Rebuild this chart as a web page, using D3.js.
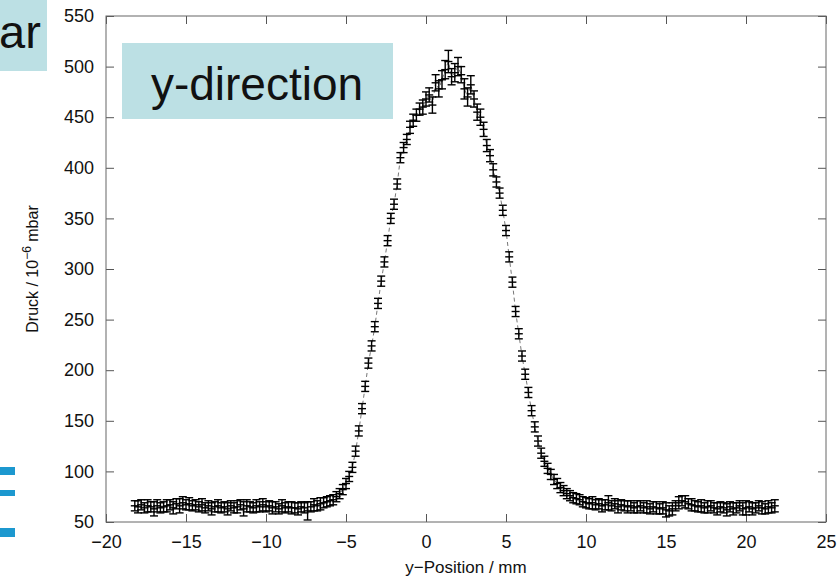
<!DOCTYPE html>
<html>
  <head>
    <meta charset="utf-8">
    <title>Druck y-direction</title>
    <script src="https://d3js.org/d3.v7.min.js"></script>
    <style>
      body { margin: 0; background: #fff; }
      text { font-family: "Liberation Sans", Arial, Helvetica, sans-serif; fill: #111; }
    </style>
  </head>

  <body>
    <div id="my_dataviz"></div>
    <script type="text/javascript">

      // scan grid: y-position from -18.2 mm in 0.2 mm steps
      var posStart = -18.2, posStep = 0.2;

      // pressure readings (10^-6 mbar)
      var druck = [
        // -18.2 .. -6.4
        66,65,67,64,66,65,63,66,64,65,
        66,67,64,68,66,69,67,68,66,67,
        65,67,64,66,63,65,66,64,65,63,
        66,64,65,67,63,66,65,64,66,65,
        67,65,66,64,65,63,66,64,65,64,
        64,63,65,64,61,65,67,66,68,69,
        // -6.2 .. 10.0
        70,71,72,75,78,82,88,95,104,120,
        140,162,184,207,224,243,266,288,307,328,
        350,364,384,410,420,428,440,447,452,458,
        460,468,472,462,484,478,487,497,505,490,
        494,500,492,478,470,482,468,455,450,438,
        422,412,398,386,375,358,338,312,287,258,
        236,214,196,178,160,144,130,118,110,103,
        97,92,88,84,81,78,76,74,73,72,
        70,69,
        // 10.2 .. 21.8
        68,69,67,68,66,67,69,66,68,65,
        67,66,65,66,64,65,66,64,65,63,
        65,64,63,64,62,61,63,66,69,71,
        70,68,67,66,65,66,64,65,66,64,
        63,65,64,62,65,63,64,66,63,64,
        65,63,64,66,64,63,65,64,66
      ];

      // error of each reading
      var fehler = [
        5,6,5,5,6,5,7,6,5,5,
        6,5,6,5,7,6,5,6,5,5,
        5,6,5,5,6,5,6,5,5,6,
        5,5,6,5,7,6,5,5,6,5,
        6,5,5,6,5,5,6,5,5,6,
        5,6,5,5,9,5,6,5,6,5,
        5,5,5,5,5,5,5,5,5,5,
        5,5,5,5,5,5,5,5,5,5,
        5,5,5,5,5,5,6,6,6,6,
        7,7,7,8,8,8,9,9,11,8,
        9,9,8,10,9,9,8,8,8,7,
        6,6,6,5,5,5,5,5,5,5,
        5,5,5,5,5,5,5,5,5,5,
        5,5,5,5,5,5,5,5,5,5,
        5,5,
        5,6,5,5,6,5,7,5,5,6,
        5,5,6,5,5,6,5,5,6,5,
        5,6,5,6,7,5,6,5,6,5,
        6,5,6,5,5,6,5,6,5,5,
        6,5,5,6,5,6,5,5,6,7,
        5,6,5,5,6,5,6,5,6
      ];

      var xTicks = [-20,-15,-10,-5,0,5,10,15,20,25];
      var yTicks = [50,100,150,200,250,300,350,400,450,500,550];

      var data = druck.map(function(d, i) {
        return {pos: posStart + i * posStep, p: d, e: fehler[i]};
      });

      var margin = {top: 16, right: 14, bottom: 57, left: 106},
          width = 840 - margin.left - margin.right,
          height = 579 - margin.top - margin.bottom;

      var root = d3.select("#my_dataviz")
        .append("svg")
        .attr("width", 840)
        .attr("height", 579);

      var svg = root.append("g")
        .attr("transform", "translate(" + margin.left + "," + margin.top + ")");

      var x = d3.scaleLinear().domain([-20, 25]).range([0, width]);
      var y = d3.scaleLinear().domain([50, 550]).range([height, 0]);

      var fmt = function(d) { return String(d).replace("-", "\u2212"); };

      // axes, ticks pointing inwards, mirrored on top/right
      var gx = svg.append("g")
        .attr("transform", "translate(0," + height + ")")
        .call(d3.axisBottom(x).tickValues(xTicks).tickSize(-8).tickSizeOuter(0).tickPadding(13).tickFormat(fmt));
      var gy = svg.append("g")
        .call(d3.axisLeft(y).tickValues(yTicks).tickSize(-8).tickSizeOuter(0).tickPadding(12));
      var gt = svg.append("g")
        .call(d3.axisTop(x).tickValues(xTicks).tickSize(-8).tickSizeOuter(0).tickFormat(""));
      var gr = svg.append("g")
        .attr("transform", "translate(" + width + ",0)")
        .call(d3.axisRight(y).tickValues(yTicks).tickSize(-8).tickSizeOuter(0).tickFormat(""));

      [gx, gy, gt, gr].forEach(function(g) {
        g.select(".domain").remove();
        g.selectAll(".tick line").attr("stroke", "#555");
        g.selectAll(".tick text")
          .style("font-size", "18px")
          .attr("fill", "#111");
      });

      svg.append("rect")
        .attr("width", width)
        .attr("height", height)
        .attr("fill", "none")
        .attr("stroke", "#666")
        .attr("stroke-width", 1);

      // dashed connecting line
      var line = d3.line()
        .x(function(d) { return x(d.pos); })
        .y(function(d) { return y(d.p); });

      svg.append("path")
        .datum(data)
        .attr("d", line)
        .attr("fill", "none")
        .attr("stroke", "#777")
        .attr("stroke-width", 1)
        .attr("stroke-dasharray", "4,3");

      // error bars
      var cap = 4;
      var bars = svg.append("g")
        .attr("stroke", "#000")
        .attr("stroke-width", 1.4)
        .selectAll("g")
        .data(data)
        .enter().append("g");

      bars.append("line")
        .attr("x1", function(d) { return x(d.pos); })
        .attr("x2", function(d) { return x(d.pos); })
        .attr("y1", function(d) { return y(d.p - d.e); })
        .attr("y2", function(d) { return y(d.p + d.e); });

      [-1, 0, 1].forEach(function(s) {
        bars.append("line")
          .attr("x1", function(d) { return x(d.pos) - cap; })
          .attr("x2", function(d) { return x(d.pos) + cap; })
          .attr("y1", function(d) { return y(d.p + s * d.e); })
          .attr("y2", function(d) { return y(d.p + s * d.e); });
      });

      // axis titles
      root.append("text")
        .attr("x", margin.left + width / 2)
        .attr("y", 573)
        .attr("text-anchor", "middle")
        .style("font-size", "17px")
        .text("y\u2212Position / mm");

      var yl = root.append("text")
        .attr("transform", "translate(38," + (margin.top + height / 2) + ") rotate(-90)")
        .attr("text-anchor", "middle")
        .style("font-size", "16px");
      yl.append("tspan").text("Druck / 10");
      yl.append("tspan").attr("dy", -7).style("font-size", "12px").text("\u22126");
      yl.append("tspan").attr("dy", 7).text(" mbar");

      // slide overlays
      root.append("rect")
        .attr("x", 0).attr("y", 0)
        .attr("width", 47).attr("height", 71)
        .attr("fill", "#bce0e4");
      root.append("text")
        .attr("x", -1).attr("y", 48)
        .style("font-size", "47px")
        .text("ar");

      root.append("rect")
        .attr("x", 122).attr("y", 43)
        .attr("width", 271).attr("height", 76)
        .attr("fill", "#bce0e4");
      root.append("text")
        .attr("x", 257).attr("y", 100)
        .attr("text-anchor", "middle")
        .style("font-size", "46px")
        .text("y-direction");

      var blue = [{y: 467, h: 8}, {y: 490, h: 6}, {y: 528, h: 9}];
      root.selectAll("rect.bl")
        .data(blue)
        .enter().append("rect")
        .attr("class", "bl")
        .attr("x", 0)
        .attr("y", function(d) { return d.y; })
        .attr("width", 15)
        .attr("height", function(d) { return d.h; })
        .attr("fill", "#1c98cf");

    </script>
  </body>
</html>
